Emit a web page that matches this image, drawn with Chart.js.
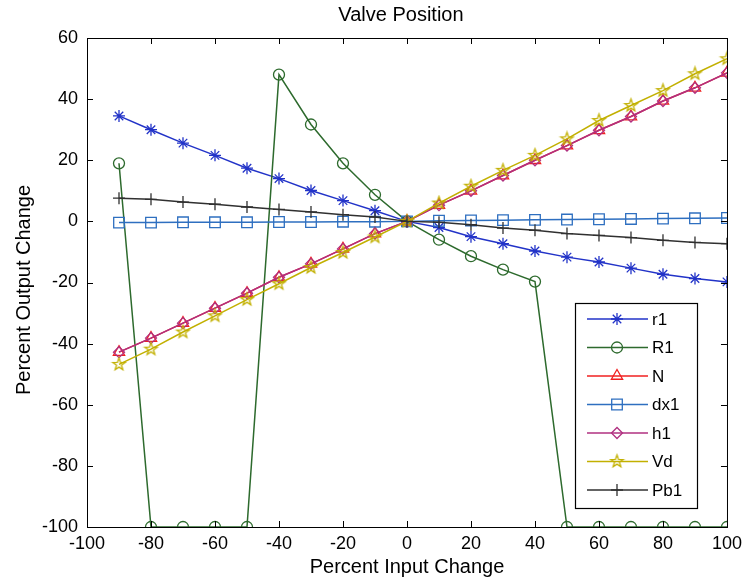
<!DOCTYPE html>
<html>
<head>
<meta charset="utf-8">
<script src="https://cdn.jsdelivr.net/npm/chart.js@4.4.1/dist/chart.umd.min.js"></script>
<style>
  html, body { margin: 0; background: #fff; }
</style>
</head>
<body>
<canvas id="chart" width="748" height="582"></canvas>
<script>
// values
const xVals = [-90, -80, -70, -60, -50, -40, -30, -20, -10, 0, 10, 20, 30, 40, 50, 60, 70, 80, 90, 100];

const r1  = [34.5, 30, 25.6, 21.6, 17.4, 14, 10.1, 6.8, 3.5, 0, -2, -5, -7.3, -9.7, -11.7, -13.3, -15.3, -17.3, -18.7, -19.8];
const R1  = [19, -100, -100, -100, -100, 48, 31.7, 19, 8.7, 0, -6, -11.4, -15.8, -19.7, -100, -100, -100, -100, -100, -100];
const N   = [-42.8, -38.2, -33.3, -28.4, -23.5, -18.3, -13.9, -9, -4, 0, 5.3, 10, 15, 20, 24.8, 29.8, 34.3, 39.4, 43.7, 48.6];
const dx1 = [-0.4, -0.4, -0.3, -0.3, -0.3, -0.2, -0.2, -0.1, -0.1, 0, 0.2, 0.3, 0.4, 0.5, 0.6, 0.7, 0.8, 0.9, 1.0, 1.1];
const h1  = [-42.8, -38.2, -33.3, -28.4, -23.5, -18.3, -13.9, -9, -4, 0, 5.3, 10, 15, 20, 24.8, 29.8, 34.3, 39.4, 43.7, 48.6];
const Vd  = [-46.8, -41.8, -36.2, -30.9, -25.6, -20.4, -15.1, -10.2, -5.1, 0, 6, 11.5, 16.7, 21.6, 27, 33, 37.9, 42.8, 48.3, 53.2];
const Pb1 = [7.6, 7.2, 6.3, 5.6, 4.7, 3.9, 3.1, 2.2, 1.4, 0, -0.3, -1.1, -2.2, -2.9, -4, -4.6, -5.3, -6.2, -6.9, -7.3];

const seriesNames = ['r1', 'R1', 'N', 'dx1', 'h1', 'Vd', 'Pb1'];
const seriesData  = [r1, R1, N, dx1, h1, Vd, Pb1];

const FONT = '"Liberation Sans", Arial, sans-serif';

// matlab-ish pentagram marker, chart.js has none
function makePentagram(color, r) {
  const size = Math.ceil(r * 2 + 4);
  const c = document.createElement('canvas');
  c.width = size; c.height = size;
  const g = c.getContext('2d');
  const cx = size / 2, cy = size / 2;
  g.beginPath();
  for (let i = 0; i < 10; i++) {
    const rad = i % 2 === 0 ? r : r * 0.4;
    const a = -Math.PI / 2 + i * Math.PI / 5;
    const px = cx + rad * Math.cos(a), py = cy + rad * Math.sin(a);
    if (i === 0) g.moveTo(px, py); else g.lineTo(px, py);
  }
  g.closePath();
  g.strokeStyle = color;
  g.lineWidth = 1.3;
  g.stroke();
  return c;
}

const STYLES = [
  { color: '#2233c8', point: 'star',      radius: 6 },
  { color: '#2d6a2d', point: 'circle',    radius: 5.5 },
  { color: '#f02020', point: 'triangle',  radius: 6.5 },
  { color: '#2e6fc0', point: 'rect',      radius: 7.5 },
  { color: '#b03080', point: 'rectRot',   radius: 5.5 },
  { color: '#c2b000', point: makePentagram('#c2b000', 6.5), radius: 6.5 },
  { color: '#303030', point: 'cross',     radius: 6 },
];

const datasets = seriesNames.map((name, i) => ({
  label: name,
  data: xVals.map((x, j) => ({ x, y: seriesData[i][j] })),
  borderColor: STYLES[i].color,
  borderWidth: 1.5,
  pointStyle: STYLES[i].point,
  pointRadius: STYLES[i].radius,
  pointBorderColor: STYLES[i].color,
  pointBackgroundColor: 'rgba(0,0,0,0)',
  pointBorderWidth: 1.3,
  tension: 0,
  order: 10 - i,
}));

const matlabFrame = {
  id: 'matlabFrame',
  afterDraw(chart) {
    const { ctx, chartArea: a, scales } = chart;
    ctx.save();
    ctx.strokeStyle = '#000';
    ctx.lineWidth = 1;
    ctx.strokeRect(a.left + 0.5, a.top + 0.5, a.right - a.left, a.bottom - a.top);

    const tl = 6;
    ctx.beginPath();
    scales.x.ticks.forEach((t) => {
      const px = Math.round(scales.x.getPixelForValue(t.value)) + 0.5;
      ctx.moveTo(px, a.bottom); ctx.lineTo(px, a.bottom - tl);
      ctx.moveTo(px, a.top);    ctx.lineTo(px, a.top + tl);
    });
    scales.y.ticks.forEach((t) => {
      const py = Math.round(scales.y.getPixelForValue(t.value)) + 0.5;
      ctx.moveTo(a.left, py);  ctx.lineTo(a.left + tl, py);
      ctx.moveTo(a.right, py); ctx.lineTo(a.right - tl, py);
    });
    ctx.stroke();

    // title + axis titles
    ctx.fillStyle = '#000';
    ctx.font = '20px ' + FONT;
    ctx.textAlign = 'center';
    ctx.textBaseline = 'middle';
    ctx.fillText('Valve Position', (a.left + a.right) / 2 - 6, 15);
    ctx.fillText('Percent Input Change', (a.left + a.right) / 2, 567);
    ctx.save();
    ctx.translate(24, 290);
    ctx.rotate(-Math.PI / 2);
    ctx.fillText('Percent Output Change', 0, 0);
    ctx.restore();

    // legend box
    const lx = 575, ly = 303, lw = 122, lh = 205;
    ctx.fillStyle = '#fff';
    ctx.fillRect(lx, ly, lw, lh);
    ctx.strokeStyle = '#000';
    ctx.lineWidth = 1.2;
    ctx.strokeRect(lx + 0.5, ly + 0.5, lw, lh);
    ctx.font = '17px ' + FONT;
    ctx.textAlign = 'left';
    seriesNames.forEach((name, i) => {
      const y = 319 + i * 28.5;
      const st = STYLES[i];
      ctx.strokeStyle = st.color;
      ctx.lineWidth = 1.5;
      ctx.beginPath();
      ctx.moveTo(587, y); ctx.lineTo(648, y);
      ctx.stroke();
      ctx.lineWidth = 1.3;
      ctx.fillStyle = 'rgba(0,0,0,0)';
      Chart.helpers.drawPoint(ctx, { pointStyle: st.point, radius: st.radius, borderWidth: 1.3, rotation: 0 }, 617, y);
      ctx.fillStyle = '#000';
      ctx.fillText(name, 652, y + 1);
    });
    ctx.restore();
  },
};

new Chart(document.getElementById('chart'), {
  type: 'line',
  data: { datasets },
  options: {
    responsive: false,
    animation: false,
    layout: { padding: { top: 38, right: 15, left: 0, bottom: 0 } },
    plugins: {
      legend: { display: false },
      tooltip: { enabled: false },
      title: { display: false },
    },
    scales: {
      x: {
        type: 'linear',
        min: -100,
        max: 100,
        afterFit: (s) => { s.height = 55; },
        grid: { display: false, drawTicks: false },
        border: { display: false },
        ticks: { stepSize: 20, padding: 6, color: '#000', font: { family: FONT, size: 18 } },
      },
      y: {
        min: -100,
        max: 60,
        afterFit: (s) => { s.width = 87; },
        grid: { display: false, drawTicks: false },
        border: { display: false },
        ticks: { stepSize: 20, padding: 9, color: '#000', font: { family: FONT, size: 18 } },
      },
    },
  },
  plugins: [matlabFrame],
});
</script>
</body>
</html>
